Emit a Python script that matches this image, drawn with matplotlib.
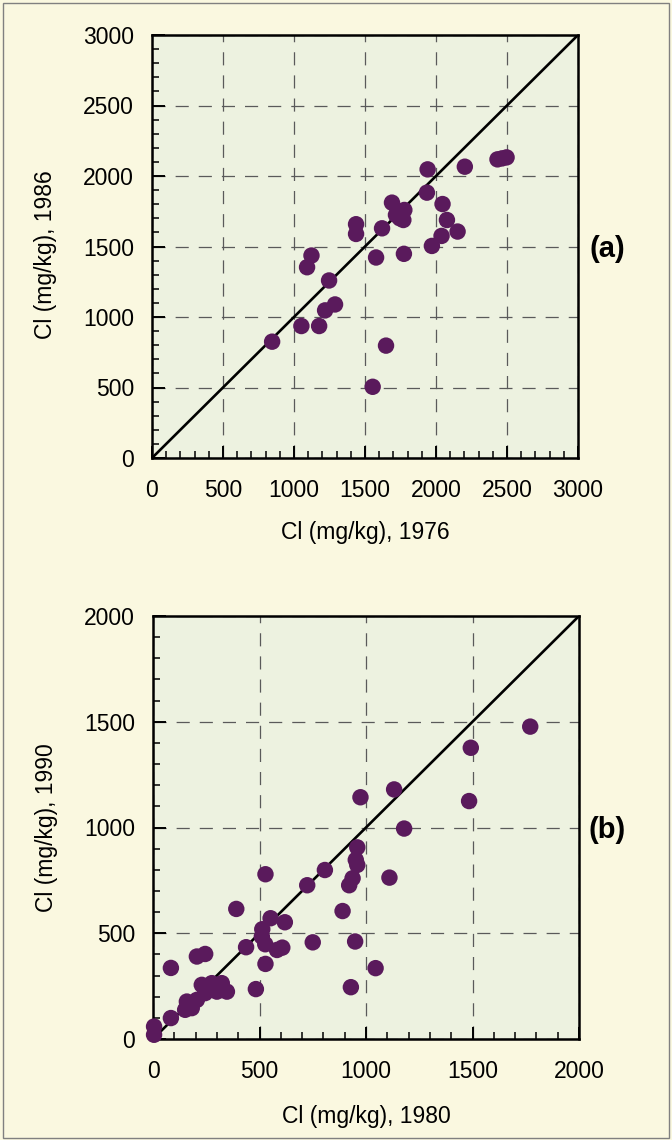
import matplotlib
matplotlib.use("Agg")
import matplotlib.pyplot as plt
from matplotlib.ticker import MultipleLocator
from matplotlib.patches import Rectangle

plt.rcParams['font.family'] = ['Liberation Sans', 'DejaVu Sans']

# Panel (a): Cl 1976 vs 1986
cl_1976 = [846, 1052, 1177, 1219, 1289, 1247, 1092, 1123, 1437, 1437, 1620, 1578,
           1648, 1554, 1690, 1718, 1777, 1770, 1774, 1941, 1936, 2046, 2077, 2039,
           2152, 1971, 2203, 2433, 2465, 2497, 1745]
cl_1986 = [825, 936, 936, 1047, 1089, 1259, 1353, 1436, 1658, 1589, 1629, 1422,
           797, 505, 1811, 1724, 1759, 1688, 1448, 2047, 1882, 1801, 1688, 1575,
           1606, 1504, 2066, 2118, 2125, 2132, 1700]

# Panel (b): Cl 1980 vs 1990
cl_1980 = [1771, 1492, 1484, 1132, 1179, 974, 959, 952, 959, 937, 921, 1110, 807,
           724, 890, 528, 391, 552, 619, 513, 511, 527, 582, 607, 750, 949, 1045,
           929, 528, 483, 437, 206, 245, 84, 229, 276, 323, 347, 300, 245, 206, 159,
           151, 182, 84, 5, 5]
cl_1990 = [1477, 1377, 1125, 1180, 995, 1143, 906, 847, 823, 760, 727, 763, 799,
           727, 605, 779, 615, 571, 552, 519, 484, 448, 421, 432, 457, 461, 335,
           245, 355, 236, 434, 390, 402, 336, 256, 264, 264, 224, 224, 217, 185, 177,
           138, 146, 99, 59, 20]

panel_a = dict(x=cl_1976, y=cl_1986, lim=3000, major=500,
               xlabel="Cl (mg/kg), 1976", ylabel="Cl (mg/kg), 1986", tag="(a)",
               ylab_y=0.48, xlab_y=-0.15)
panel_b = dict(x=cl_1980, y=cl_1990, lim=2000, major=500,
               xlabel="Cl (mg/kg), 1980", ylabel="Cl (mg/kg), 1990", tag="(b)",
               ylab_y=0.5, xlab_y=-0.155)

FIG_BG = "#FAF8E0"
AX_BG = "#EDF2E0"
DOT = "#5A1A5C"

fig = plt.figure(figsize=(6.72, 11.4), dpi=100, facecolor=FIG_BG)
fig.patches.append(Rectangle((0.004, 0.002), 0.992, 0.995, transform=fig.transFigure,
                             fill=False, edgecolor="#808080", linewidth=1.0))

W, H = 672, 1140
rects = [(152, 35, 426, 423), (153, 616, 426, 423)]
for (l, t, w, h), p in zip(rects, [panel_a, panel_b]):
    ax = fig.add_axes([l / W, 1 - (t + h) / H, w / W, h / H])
    ax.set_facecolor(AX_BG)
    lim = p["lim"]
    ax.set_xlim(0, lim)
    ax.set_ylim(0, lim)
    ax.plot([0, lim], [0, lim], color="black", linewidth=1.9, zorder=2)
    ax.scatter(p["x"], p["y"], s=140, color=DOT, edgecolors="none", zorder=3,
               clip_on=False)
    ax.xaxis.set_major_locator(MultipleLocator(p["major"]))
    ax.yaxis.set_major_locator(MultipleLocator(p["major"]))
    ax.xaxis.set_minor_locator(MultipleLocator(100))
    ax.yaxis.set_minor_locator(MultipleLocator(100))
    ax.tick_params(which="major", direction="in", length=9, width=1.4,
                   labelsize=16.5, pad=15, top=False, right=False)
    ax.tick_params(which="minor", direction="in", length=5, width=1.1,
                   top=False, right=False)
    ax.tick_params(axis="y", which="major", pad=13)
    for sp in ax.spines.values():
        sp.set_linewidth(1.8)
    ax.grid(True, which="major", linestyle=(0, (10.5, 8)), color="#5a5a5a",
            linewidth=0.9, zorder=1)
    ax.set_axisbelow(True)
    ax.set_xlabel(p["xlabel"], fontsize=16.5)
    ax.set_ylabel(p["ylabel"], fontsize=16.5)
    ax.xaxis.set_label_coords(0.5, p["xlab_y"])
    ax.yaxis.set_label_coords(-0.222, p["ylab_y"])
    fig.text(607 / W, 1 - (t + h / 2 + 2) / H, p["tag"], fontsize=21,
             fontweight="bold", ha="center", va="center")

fig.savefig("out.png", dpi=100, facecolor=FIG_BG)
